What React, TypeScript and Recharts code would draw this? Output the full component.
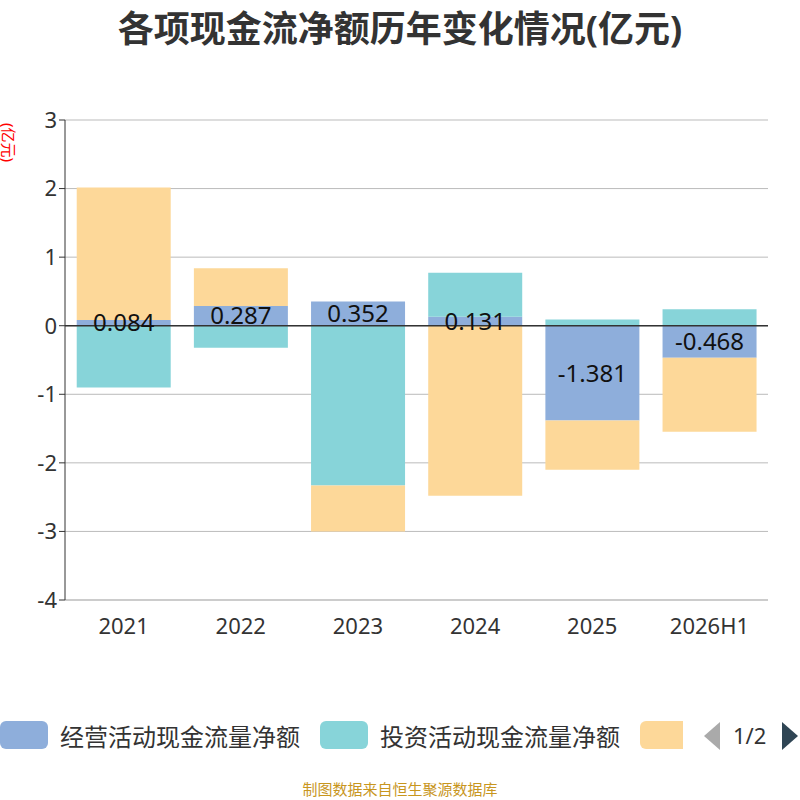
import { BarChart, Bar, XAxis, YAxis, CartesianGrid, ReferenceLine, LabelList } from "recharts"

const years = ["2021", "2022", "2023", "2024", "2025", "2026H1"]
const operating = [0.084, 0.287, 0.352, 0.131, -1.381, -0.468]
const investing = [-0.9, -0.32, -2.33, 0.64, 0.09, 0.24]
const financing = [1.93, 0.55, -0.67, -2.48, -0.72, -1.08]
const yTicks = [-4, -3, -2, -1, 0, 1, 2, 3]

const data = years.map((y, i) => ({
  year: y,
  operating: operating[i],
  investing: investing[i],
  financing: financing[i]
}))

const font = "'Noto Sans', 'Noto Sans CJK SC', sans-serif"

const App = () => {
  return (
    <div style={{ position: "absolute", left: 0, top: 0, width: 800, height: 800, fontFamily: font, background: "#fff", overflow: "hidden" }}>
      <div style={{ position: "absolute", top: 0, width: 800, textAlign: "center", fontSize: 36, fontWeight: "bold", color: "#333" }}>
        各项现金流净额历年变化情况(亿元)
      </div>
      <div style={{ position: "absolute", left: -10, top: 132, transform: "rotate(90deg)", color: "red", fontSize: 15 }}>
        (亿元)
      </div>

      <BarChart
        width={800}
        height={800}
        data={data}
        stackOffset="sign"
        barCategoryGap="10%"
        margin={{ top: 120, right: 32, bottom: 170, left: 5 }}
      >
        <CartesianGrid vertical={false} stroke="#bbb" />
        <XAxis dataKey="year" tick={{ fontSize: 22, fill: "#333" }} tickLine={false} axisLine={{ stroke: "#bbb" }} tickMargin={12} />
        <YAxis
          domain={[-4, 3]}
          ticks={yTicks}
          width={60}
          tick={{ fontSize: 22, fill: "#333" }}
          axisLine={{ stroke: "#333" }}
          tickLine={{ stroke: "#333" }}
        />
        <Bar dataKey="operating" stackId="a" fill="#8eaedb" isAnimationActive={false}>
          <LabelList dataKey="operating" position="center" fill="#111" fontSize={24} />
        </Bar>
        <Bar dataKey="investing" stackId="a" fill="#87d4d9" isAnimationActive={false} />
        <Bar dataKey="financing" stackId="a" fill="#fdd899" isAnimationActive={false} />
        <ReferenceLine y={0} stroke="#333" strokeWidth={1.5} />
      </BarChart>

      <div style={{ position: "absolute", top: 718, left: 0, width: 800, height: 32, fontSize: 24, color: "#333" }}>
        <div style={{ position: "absolute", left: 0, top: 3, width: 48, height: 28, borderRadius: 6, background: "#8eaedb" }} />
        <div style={{ position: "absolute", left: 60, top: 0 }}>经营活动现金流量净额</div>
        <div style={{ position: "absolute", left: 320, top: 3, width: 48, height: 28, borderRadius: 6, background: "#87d4d9" }} />
        <div style={{ position: "absolute", left: 380, top: 0 }}>投资活动现金流量净额</div>
        <div style={{ position: "absolute", left: 640, top: 3, width: 43, height: 28, borderRadius: "6px 0 0 6px", background: "#fdd899" }} />
        <svg style={{ position: "absolute", left: 700, top: 2 }} width={100} height={32}>
          <polygon points="20,2 20,30 4,16" fill="#aaa" />
          <text x={33} y={24} fontSize={22} fill="#333" fontFamily={font}>1/2</text>
          <polygon points="82,2 82,30 98,16" fill="#2f4554" />
        </svg>
      </div>

      <div style={{ position: "absolute", top: 778, width: 800, textAlign: "center", fontSize: 15, color: "#c8961e" }}>
        制图数据来自恒生聚源数据库
      </div>
    </div>
  )
}

export default App
